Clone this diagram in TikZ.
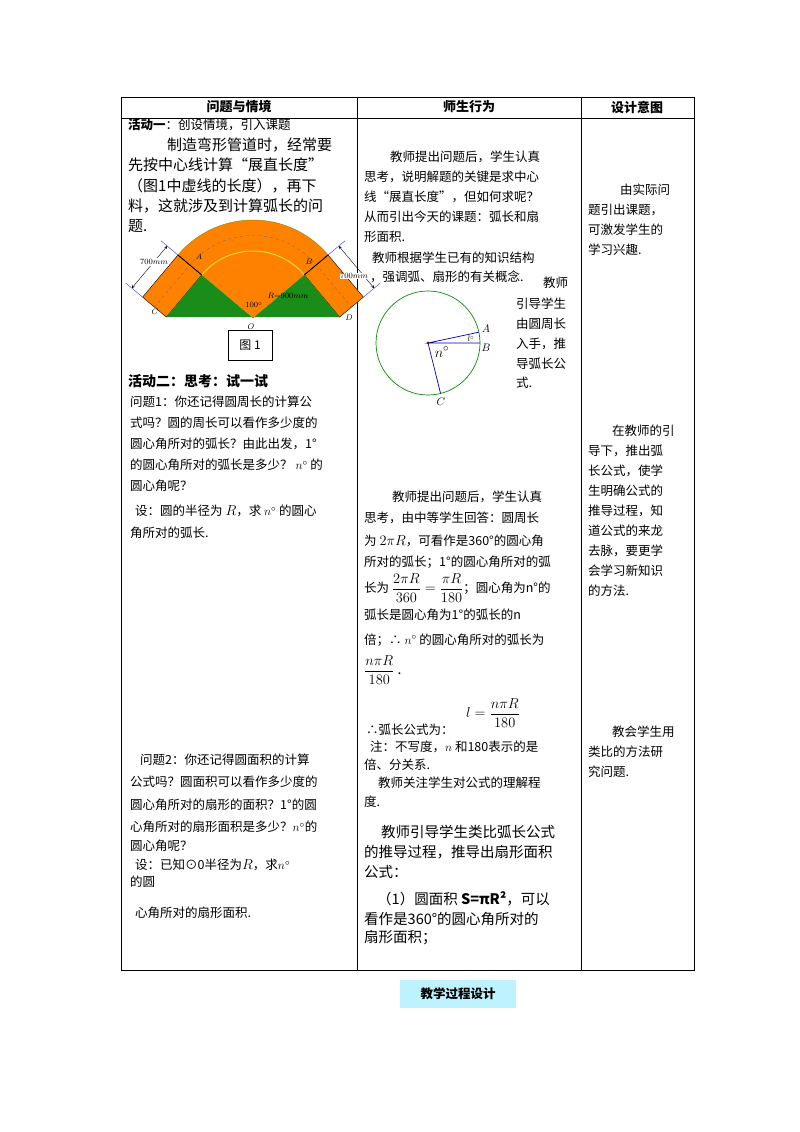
\documentclass[tikz,border=0pt]{standalone}
\usepackage{amsmath}
\usepackage{fontspec}
\usetikzlibrary{calc}
\setmainfont{Noto Sans CJK SC}
\begin{document}
\begin{tikzpicture}[x=1pt,y=1pt,
 t/.style={anchor=west,inner sep=0pt,font=\fontsize{12.5}{13}\selectfont},
 tb/.style={t,font=\fontsize{13}{14}\selectfont\bfseries},
 fl/.style={inner sep=1pt,font=\fontsize{8.5}{9}\selectfont},
 mt/.style={t,font=\fontsize{14}{15}\selectfont},
 grid/.style={line width=0.6pt,black}]
\useasboundingbox (0,0) rectangle (800,-1132);
% table
\draw[grid] (121,-97) rectangle (694,-970);
\draw[grid] (121,-118) -- (694,-118);
\draw[grid] (357,-97) -- (357,-970);
\draw[grid] (581,-97) -- (581,-970);
\node[tb,anchor=center] (h1) at (239,-107) {问题与情境};
\node[tb,anchor=center] (h2) at (469,-107) {师生行为};
\node[tb,anchor=center] (h3) at (637,-107) {设计意图};
% column 1
\node[t] (a1) at (128,-125) {\textbf{活动一}：创设情境，引入课题};
\node[t,font=\fontsize{15}{16}\selectfont] (a2) at (167,-145) {制造弯形管道时，经常要};
\node[t,font=\fontsize{15}{16}\selectfont] (a3) at (128,-165) {先按中心线计算“展直长度”};
\node[t,font=\fontsize{15}{16}\selectfont] (a4) at (128,-186) {（图1中虚线的长度），再下};
\node[t,font=\fontsize{15}{16}\selectfont] (a5) at (128,-206) {料，这就涉及到计算弧长的问};
\node[t,font=\fontsize{15}{16}\selectfont] (a6) at (128,-226) {题.};
% figure 1
\coordinate (O) at (253,-318);
\coordinate (Ao) at ($(O)+(140:98)$);
\coordinate (Ai) at ($(O)+(140:67)$);
\coordinate (Bo) at ($(O)+(40:98)$);
\coordinate (Bi) at ($(O)+(40:67)$);
\coordinate (Co) at ($(Ao)+(230:55)$);
\coordinate (Ci) at ($(Ai)+(230:55)$);
\coordinate (Do) at ($(Bo)+(-50:55)$);
\coordinate (Di) at ($(Bi)+(-50:55)$);
\fill[orange!90!red!90!yellow] (O) -- (Ai) -- (Ao) arc[start angle=140,end angle=40,radius=98] -- (Bi) -- cycle;
\fill[orange!90!red!90!yellow,draw=black,line width=0.4pt] (Ai) -- (Ao) -- (Co) -- (Ci) -- cycle;
\fill[orange!90!red!90!yellow,draw=black,line width=0.4pt] (Bi) -- (Bo) -- (Do) -- (Di) -- cycle;
\fill[green!50!black!90] (Ci) -- (Ai) -- (O) -- (Bi) -- (Di) -- cycle;
\draw[yellow!60!olive!70,line width=1pt] (Ai) arc[start angle=140,end angle=40,radius=67];
\draw[olive,line width=0.4pt] (Ao) arc[start angle=140,end angle=40,radius=98];
\draw[black!60,dashed,line width=0.3pt] ($(Ci)!0.5!(Co)$) -- ($(Ai)!0.5!(Ao)$) arc[start angle=140,end angle=40,radius=82.5] -- ($(Di)!0.5!(Do)$);
\draw[line width=0.8pt] (Ai) -- (Ao);
\draw[line width=0.8pt] (Bi) -- (Bo);
\draw[blue!70,line width=0.5pt] (Ao) -- ($(Ao)+(140:22)$);
\draw[blue!70,line width=0.5pt] (Co) -- ($(Co)+(140:22)$);
\draw[blue!70,line width=0.5pt] (Bo) -- ($(Bo)+(40:22)$);
\draw[blue!70,line width=0.5pt] (Do) -- ($(Do)+(40:22)$);
\draw[<->,>=stealth,line width=0.4pt] ($(Ao)+(140:14)$) -- ($(Co)+(140:14)$);
\draw[<->,>=stealth,line width=0.4pt] ($(Bo)+(40:14)$) -- ($(Do)+(40:14)$);
\node[fl,fill=white] (m1) at (154,-262) {$700mm$};
\node[fl,fill=white,inner sep=0pt] (m2) at (354,-276) {$700mm$};
\node[fl] (lA) at (199,-257) {$A$};
\node[fl] (lB) at (309,-262) {$B$};
\node[fl] (lC) at (155,-312) {$C$};
\node[fl] (lD) at (349,-318) {$D$};
\node[fl] (lO) at (251,-327) {$O$};
\node[fl] (ang) at (254,-305) {$100^{\circ}$};
\node[fl] (lR) at (288,-296) {$R{=}900mm$};
\node[draw,line width=0.6pt,minimum width=44pt,minimum height=30pt,font=\fontsize{12}{13}\selectfont] (fig1) at (250,-345) {图 1};
% circle
\coordinate (Z) at (428,-343);
\draw[green!55!black,line width=0.7pt] (Z) circle[radius=52];
\coordinate (cA) at ($(Z)+(12:52)$);
\coordinate (cB) at ($(Z)+(0:52)$);
\coordinate (cC) at ($(Z)+(-76:52)$);
\draw[blue!60!black,line width=0.7pt] (cA) -- (Z) -- (cB);
\draw[blue!60!black,line width=0.7pt] (Z) -- (cC);
\fill[red!50!black] (Z) circle[radius=1.5];
\node[fl,font=\fontsize{11}{12}\selectfont] (nA) at (486,-329) {$A$};
\node[fl,font=\fontsize{11}{12}\selectfont] (nB) at (486,-348) {$B$};
\node[fl,font=\fontsize{11}{12}\selectfont] (nC) at (441,-402) {$C$};
\node[fl,font=\fontsize{8}{8}\selectfont] (n1) at (471,-339) {$l^{\circ}$};
\node[fl,font=\fontsize{15}{16}\selectfont] (nn) at (442,-352) {$n^{\circ}$};
\node[t] (c1) at (543,-283) {教师};
\node[t] (c2) at (516,-304) {引导学生};
\node[t] (c3) at (516,-324) {由圆周长};
\node[t] (c4) at (516,-344) {入手，推};
\node[t] (c5) at (516,-364) {导弧长公};
\node[t] (c6) at (516,-383) {式.};
% column 1 continued
\node[t,font=\fontsize{14}{15}\selectfont\bfseries] (b1) at (128,-381) {活动二：思考：试一试};
\node[t] (b2) at (130,-402) {问题1：你还记得圆周长的计算公};
\node[t] (b3) at (130,-423) {式吗？圆的周长可以看作多少度的};
\node[t] (b4) at (130,-444) {圆心角所对的弧长？由此出发，1°};
\node[t] (b5) at (130,-465) {的圆心角所对的弧长是多少？ $n^{\circ}$ 的};
\node[t] (b6) at (130,-486) {圆心角呢？};
\node[t] (b7) at (135,-511) {设：圆的半径为 \fontsize{15}{15}\selectfont$R$\fontsize{12.5}{13}\selectfont，求 $n^{\circ}$ 的圆心};
\node[t] (b8) at (130,-533) {角所对的弧长.};
\node[t] (d1) at (140,-760) {问题2：你还记得圆面积的计算};
\node[t] (d2) at (130,-782) {公式吗？圆面积可以看作多少度的};
\node[t] (d3) at (130,-805) {圆心角所对的扇形的面积？1°的圆};
\node[t] (d4) at (130,-827) {心角所对的扇形面积是多少？$n^{\circ}$的};
\node[t] (d5) at (130,-846) {圆心角呢？};
\node[t] (d6) at (135,-865) {设：已知⊙0半径为\fontsize{15}{15}\selectfont$R$\fontsize{12.5}{13}\selectfont，求$n^{\circ}$};
\node[t] (d7) at (130,-882) {的圆};
\node[t] (d8) at (135,-913) {心角所对的扇形面积.};
% column 2
\node[t] (e1) at (390,-157) {教师提出问题后，学生认真};
\node[t] (e2) at (364,-177) {思考，说明解题的关键是求中心};
\node[t] (e3) at (364,-197) {线“展直长度”，但如何求呢？};
\node[t] (e4) at (364,-217) {从而引出今天的课题：弧长和扇};
\node[t] (e5) at (364,-237) {形面积.};
\node[t] (e6) at (372,-258) {教师根据学生已有的知识结构};
\node[t] (e7) at (370,-277) {，强调弧、扇形的有关概念.};
\node[t] (f1) at (392,-497) {教师提出问题后，学生认真};
\node[t] (f2) at (364,-518) {思考，由中等学生回答：圆周长};
\node[t] (f3) at (364,-541) {为 \fontsize{15}{15}\selectfont$2\pi R$\fontsize{12.5}{13}\selectfont ，可看作是360°的圆心角};
\node[t] (f4) at (364,-562) {所对的弧长；1°的圆心角所对的弧};
\node[t] (f5) at (364,-588) {长为 \fontsize{15}{15}\selectfont$\displaystyle\frac{2\pi R}{360}=\frac{\pi R}{180}$\fontsize{12.5}{13}\selectfont；圆心角为n°的};
\node[t] (f6) at (364,-615) {弧长是圆心角为1°的弧长的n};
\node[t] (f7) at (364,-640) {倍；∴ $n^{\circ}$ 的圆心角所对的弧长为};
\node[mt] (f8) at (364,-670) {$\displaystyle\frac{n\pi R}{180}$ .};
\node[mt] (f9) at (466,-713) {$l=\displaystyle\frac{n\pi R}{180}$};
\node[t] (f10) at (366,-730) {∴弧长公式为：};
\node[t] (f11) at (370,-747) {注：不写度，$n$ 和180表示的是};
\node[t] (f12) at (364,-765) {倍、分关系.};
\node[t] (f13) at (378,-783) {教师关注学生对公式的理解程};
\node[t] (f14) at (364,-802) {度.};
\node[t,font=\fontsize{14.5}{15}\selectfont] (g1) at (381,-832) {教师引导学生类比弧长公式};
\node[t,font=\fontsize{14.5}{15}\selectfont] (g2) at (364,-852) {的推导过程，推导出扇形面积};
\node[t,font=\fontsize{14.5}{15}\selectfont] (g3) at (364,-872) {公式：};
\node[t,font=\fontsize{14.5}{15}\selectfont] (g4) at (377,-899) {（1）圆面积 \textbf{S=πR²}，可以};
\node[t,font=\fontsize{14.5}{15}\selectfont] (g5) at (364,-919) {看作是360°的圆心角所对的};
\node[t,font=\fontsize{14.5}{15}\selectfont] (g6) at (364,-938) {扇形面积；};
% column 3
\node[t] (k1) at (620,-190) {由实际问};
\node[t] (k2) at (588,-210) {题引出课题，};
\node[t] (k3) at (588,-230) {可激发学生的};
\node[t] (k4) at (588,-250) {学习兴趣.};
\node[t] (k5) at (612,-431) {在教师的引};
\node[t] (k6) at (588,-451) {导下，推出弧};
\node[t] (k7) at (588,-471) {长公式，使学};
\node[t] (k8) at (588,-491) {生明确公式的};
\node[t] (k9) at (588,-511) {推导过程，知};
\node[t] (k10) at (588,-531) {道公式的来龙};
\node[t] (k11) at (588,-551) {去脉，要更学};
\node[t] (k12) at (588,-571) {会学习新知识};
\node[t] (k13) at (588,-591) {的方法.};
\node[t] (k14) at (612,-732) {教会学生用};
\node[t] (k15) at (588,-752) {类比的方法研};
\node[t] (k16) at (588,-772) {究问题.};
% button
\node[fill=blue!20!cyan!25,minimum width=116pt,minimum height=28pt,font=\fontsize{12.5}{13}\selectfont\bfseries] (btn) at (458,-994) {教学过程设计};
\end{tikzpicture}
\end{document}
